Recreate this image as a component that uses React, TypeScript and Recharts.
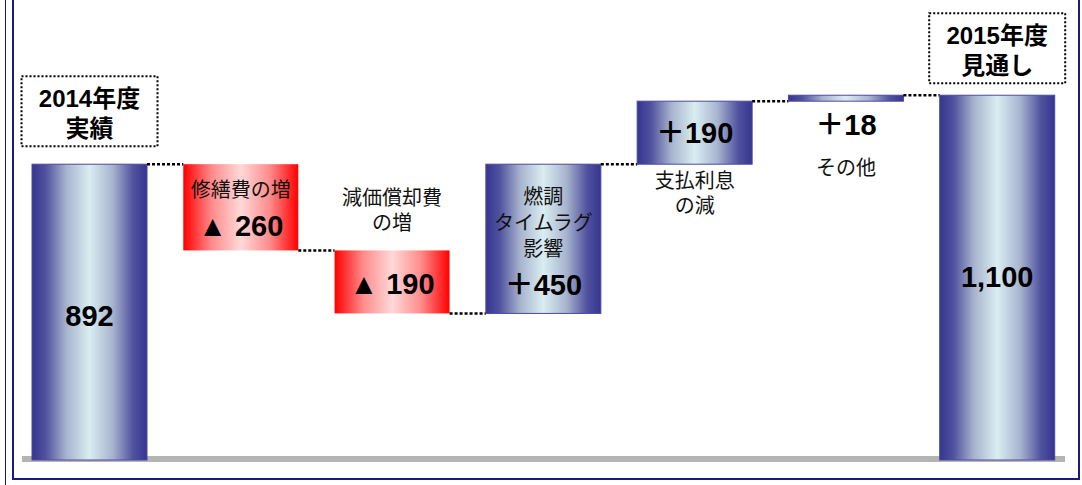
import React from "react";
import { BarChart, Bar, XAxis, YAxis, ReferenceLine } from "recharts";

// waterfall: 2014 actual -> 2015 forecast
const categories = ["2014年度実績", "修繕費の増", "減価償却費の増", "燃調タイムラグ影響", "支払利息の減", "その他", "2015年度見通し"];
const changes = [892, -260, -190, 450, 190, 18, 1100];
const kinds = ["total", "down", "down", "up", "up", "up", "total"];
const valueLabels = ["892", "▲ 260", "▲ 190", "＋450", "＋190", "＋18", "1,100"];
const noteLines = [
  ["2014年度", "実績"],
  ["修繕費の増"],
  ["減価償却費", "の増"],
  ["燃調", "タイムラグ", "影響"],
  ["支払利息", "の減"],
  ["その他"],
  ["2015年度", "見通し"],
];

const W = 1082;
const H = 485;
const BAR = 115;
const MARGIN = { top: 9, right: 9, left: 14, bottom: 25 };
const GAP = (W - MARGIN.left - MARGIN.right) / categories.length - BAR;

const FONT = "'Liberation Sans', Arial, 'Noto Sans CJK JP', sans-serif";

let running = 0;
const data = categories.map((name, i) => {
  let range: [number, number];
  if (kinds[i] === "total") {
    running = changes[i];
    range = [0, changes[i]];
  } else {
    const next = running + changes[i];
    range = [Math.min(running, next), Math.max(running, next)];
    running = next;
  }
  return { name, range, kind: kinds[i], label: valueLabels[i], notes: noteLines[i], idx: i };
});

const valueStyle = { fontFamily: FONT, fontWeight: 700, fontSize: 29, fill: "#000" };
const noteStyle = { fontFamily: FONT, fontSize: 20, fill: "#111" };

function Txt({ x, y, children, style }: any) {
  return (
    <text x={x} y={y} textAnchor="middle" dominantBaseline="central" style={style}>
      {children}
    </text>
  );
}

function StepShape(props: any) {
  const { x, y, width, height, payload } = props;
  const i = payload.idx;
  const kind = payload.kind;
  const cx = x + width / 2;
  const bottom = y + height;
  const mid = y + height / 2;
  const end = kind === "down" ? bottom : y;
  const last = i === data.length - 1;

  let labels: React.ReactNode = null;
  if (kind === "total") {
    const boxGap = i === 0 ? 18 : 12;
    const bh = 70;
    const by = y - boxGap - bh;
    labels = (
      <g>
        <rect x={cx - 68} y={by} width={136} height={bh} fill="none" stroke="#000" strokeWidth={2} strokeDasharray="2 2" />
        <Txt x={cx} y={by + 22} style={{ ...valueStyle, fontSize: 24 }}>{payload.notes[0]}</Txt>
        <Txt x={cx} y={by + 52} style={{ ...valueStyle, fontSize: 24 }}>{payload.notes[1]}</Txt>
        <Txt x={cx} y={i === 0 ? mid + 4 : mid - 1} style={valueStyle}>{payload.label}</Txt>
      </g>
    );
  } else if (i === 1) {
    labels = (
      <g>
        <Txt x={cx} y={mid - 17} style={noteStyle}>{payload.notes[0]}</Txt>
        <Txt x={cx} y={mid + 19} style={valueStyle}>{payload.label}</Txt>
      </g>
    );
  } else if (i === 2) {
    labels = (
      <g>
        <Txt x={cx} y={y - 52} style={noteStyle}>{payload.notes[0]}</Txt>
        <Txt x={cx} y={y - 27} style={noteStyle}>{payload.notes[1]}</Txt>
        <Txt x={cx} y={mid + 2} style={valueStyle}>{payload.label}</Txt>
      </g>
    );
  } else if (i === 3) {
    labels = (
      <g>
        {payload.notes.map((t: string, k: number) => (
          <Txt key={k} x={cx} y={y + 33 + k * 26} style={noteStyle}>{t}</Txt>
        ))}
        <Txt x={cx} y={y + 121} style={valueStyle}>{payload.label}</Txt>
      </g>
    );
  } else if (i === 4) {
    labels = (
      <g>
        <Txt x={cx} y={mid} style={valueStyle}>{payload.label}</Txt>
        <Txt x={cx} y={bottom + 17} style={noteStyle}>{payload.notes[0]}</Txt>
        <Txt x={cx} y={bottom + 42} style={noteStyle}>{payload.notes[1]}</Txt>
      </g>
    );
  } else {
    labels = (
      <g>
        <Txt x={cx} y={bottom + 24} style={valueStyle}>{payload.label}</Txt>
        <Txt x={cx} y={bottom + 67} style={noteStyle}>{payload.notes[0]}</Txt>
      </g>
    );
  }

  return (
    <g>
      <rect
        x={x}
        y={y}
        width={width}
        height={height}
        fill={kind === "down" ? "url(#redGrad)" : "url(#blueGrad)"}
        stroke={kind === "down" ? "none" : "#4a4aa0"}
        strokeWidth={1}
      />
      {!last && (
        <line x1={x + width} y1={end} x2={x + width + GAP} y2={end} stroke="#000" strokeWidth={2.5} strokeDasharray="3 2" />
      )}
      {labels}
    </g>
  );
}

function BaseStrip(props: any) {
  const { x1, x2, y1 } = props;
  return <rect x={x1 + 8} y={y1 - 4} width={x2 - x1 - 16} height={6} fill="#b4b4b4" />;
}

export default function App() {
  return (
    <div style={{ position: "absolute", left: 0, top: 0, width: W, height: H, background: "#fff", overflow: "hidden" }}>
      <div style={{ position: "absolute", left: 5, top: -4, width: 1, height: H + 8, background: "#1a1a80" }} />
      <div
        style={{
          position: "absolute",
          left: 12,
          top: -4,
          width: 1080 - 12,
          height: 484,
          border: "2px solid #1a1a80",
          borderTop: "none",
          boxSizing: "border-box",
        }}
      />
      <div style={{ position: "absolute", left: 0, top: 0 }}>
        <BarChart width={W} height={H} data={data} margin={MARGIN} barSize={BAR}>
          <defs>
            <linearGradient id="blueGrad" x1="0" y1="0" x2="1" y2="0">
              <stop offset="0%" stopColor="#35358f" />
              <stop offset="12%" stopColor="#50529f" />
              <stop offset="30%" stopColor="#a8b4ce" />
              <stop offset="50%" stopColor="#daedf1" />
              <stop offset="70%" stopColor="#a8b4ce" />
              <stop offset="88%" stopColor="#50529f" />
              <stop offset="100%" stopColor="#35358f" />
            </linearGradient>
            <linearGradient id="redGrad" x1="0" y1="0" x2="1" y2="0">
              <stop offset="0%" stopColor="#ff0000" />
              <stop offset="25%" stopColor="#ff8c8c" />
              <stop offset="50%" stopColor="#ffd8d8" />
              <stop offset="75%" stopColor="#ff8c8c" />
              <stop offset="100%" stopColor="#ff0000" />
            </linearGradient>
          </defs>
          <XAxis dataKey="name" hide />
          <YAxis hide domain={[0, 1360]} />
          <ReferenceLine y={0} shape={BaseStrip} zIndex={-50} />
          <Bar dataKey="range" shape={StepShape} isAnimationActive={false} />
        </BarChart>
      </div>
    </div>
  );
}
